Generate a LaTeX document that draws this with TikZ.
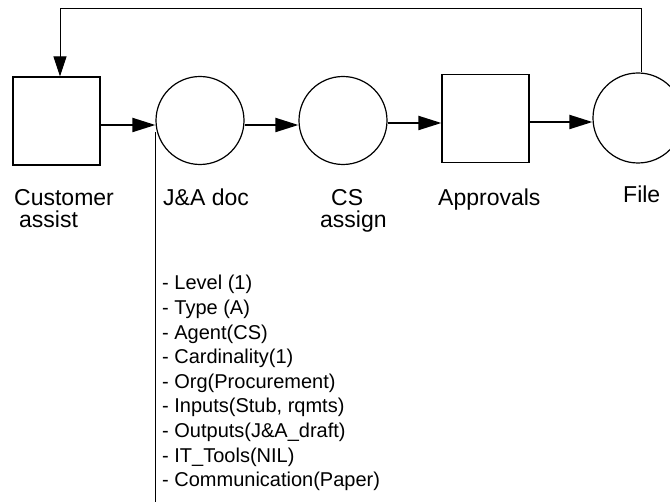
\documentclass[tikz,border=0pt]{standalone}
\usepackage{fontspec}
\setmainfont{Liberation Sans}
\usetikzlibrary{arrows.meta}
\begin{document}
\begin{tikzpicture}[x=1pt,y=-1pt,
  box/.style={draw, line width=1.2pt, minimum width=87pt, minimum height=88pt, inner sep=0pt},
  place/.style={draw, circle, line width=1.2pt, minimum size=88pt, inner sep=0pt},
  flow/.style={line width=2pt, -{Triangle[length=23pt,width=14pt]}},
  fb/.style={line width=1pt, -{Triangle[length=20pt,width=13pt]}},
  lbl/.style={font=\fontsize{23}{27}\selectfont, anchor=base west, inner sep=0pt},
  item/.style={font=\fontsize{20}{24}\selectfont, anchor=base west, inner sep=0pt}]
\useasboundingbox[fill=white] (0,0) rectangle (670,502);
% nodes
\node[box] (ca) at (56.5,121) {};
\node[place] (ja) at (200,120.5) {};
\node[place] (cs) at (343,120.5) {};
\node[box] (ap) at (485.5,118.5) {};
\node[place, minimum size=90pt] (fi) at (638,118) {};
% flow arrows
\draw[flow] ([yshift=-4pt]ca.east) -- ([yshift=-4pt]ca.east -| ja.west);
\draw[flow] ([yshift=-4.5pt]ja.east) -- ([yshift=-4.5pt]ja.east -| cs.west);
\draw[flow] ([yshift=-2.5pt]cs.east) -- ([yshift=-2.5pt]cs.east -| ap.west);
\draw[flow] ([yshift=-3.5pt]ap.east) -- ([yshift=-3.5pt]ap.east -| fi.west);
% feedback
\coordinate (top) at (60,9);
\draw[fb] ([xshift=3pt]fi.north) |- (top) -- (top |- ca.north);
% attribute line
\coordinate (lend) at (157,496);
\draw[line width=1.3pt] ([yshift=-12pt]ja.west) -- ([yshift=-12pt]ja.west |- lend);
% labels
\node[lbl] (t1) at (14,206) {Customer};
\node[lbl] (t2) at (19,228) {assist};
\node[lbl] (t3) at (163,206) {J\&A doc};
\node[lbl] (t4) at (331,206) {CS};
\node[lbl] (t5) at (320,228) {assign};
\node[lbl] (t6) at (438,206) {Approvals};
\node[lbl] (t7) at (623,203) {File};
% attribute list
\foreach \t [count=\i from 0] in {{- Level (1)},{- Type (A)},{- Agent(CS)},{- Cardinality(1)},{- Org(Procurement)},{- Inputs(Stub, rqmts)},{- Outputs(J\&A\_draft)},{- IT\_Tools(NIL)},{- Communication(Paper)}}
  \node[item] (it\i) at (162,290+24.6*\i) {\t};
\end{tikzpicture}
\end{document}
